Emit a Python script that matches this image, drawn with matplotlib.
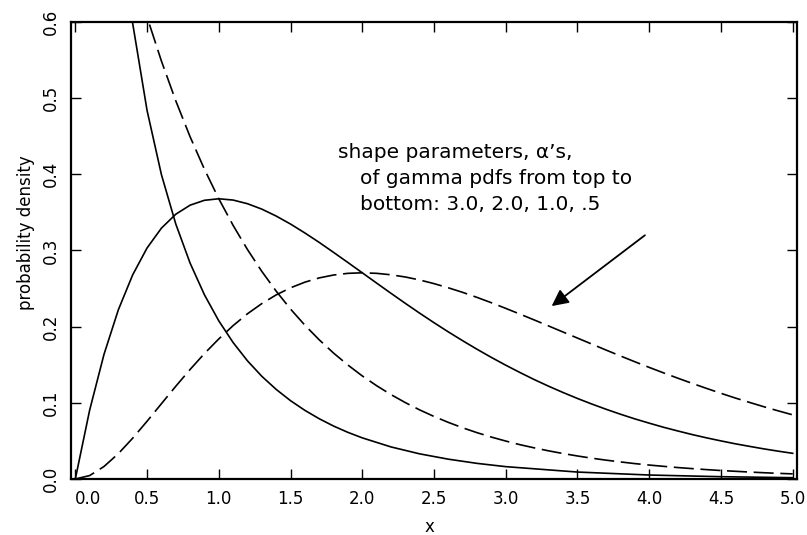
import matplotlib
matplotlib.use("Agg")
import matplotlib.pyplot as plt
import numpy as np

# x grid for the curves
x = [0.0, 0.1, 0.2, 0.3, 0.4, 0.5, 0.6, 0.7, 0.8, 0.9,
     1.0, 1.1, 1.2, 1.3, 1.4, 1.5, 1.6, 1.7, 1.8, 1.9,
     2.0, 2.1, 2.2, 2.3, 2.4, 2.5, 2.6, 2.7, 2.8, 2.9,
     3.0, 3.1, 3.2, 3.3, 3.4, 3.5, 3.6, 3.7, 3.8, 3.9,
     4.0, 4.1, 4.2, 4.3, 4.4, 4.5, 4.6, 4.7, 4.8, 4.9, 5.0]

# alpha = 3.0 (dashed, peak near x=2)
pdf_a3 = [0.0, 0.0045, 0.0164, 0.0333, 0.0536, 0.0758, 0.0988, 0.1217, 0.1438, 0.1647,
          0.1839, 0.2014, 0.2169, 0.2303, 0.2417, 0.2510, 0.2584, 0.2640, 0.2678, 0.2700,
          0.2707, 0.2700, 0.2681, 0.2652, 0.2613, 0.2565, 0.2510, 0.2450, 0.2384, 0.2314,
          0.2240, 0.2164, 0.2087, 0.2008, 0.1929, 0.1850, 0.1771, 0.1692, 0.1615, 0.1539,
          0.1465, 0.1393, 0.1323, 0.1255, 0.1189, 0.1125, 0.1063, 0.1005, 0.0948, 0.0894, 0.0842]

# alpha = 2.0 (solid, peak near x=1)
pdf_a2 = [0.0, 0.0905, 0.1637, 0.2222, 0.2681, 0.3033, 0.3293, 0.3476, 0.3595, 0.3659,
          0.3679, 0.3662, 0.3614, 0.3543, 0.3452, 0.3347, 0.3230, 0.3106, 0.2975, 0.2842,
          0.2707, 0.2572, 0.2438, 0.2306, 0.2177, 0.2052, 0.1931, 0.1815, 0.1703, 0.1596,
          0.1494, 0.1397, 0.1304, 0.1217, 0.1135, 0.1057, 0.0984, 0.0915, 0.0850, 0.0789,
          0.0733, 0.0679, 0.0630, 0.0583, 0.0540, 0.0500, 0.0462, 0.0428, 0.0395, 0.0365, 0.0337]

# alpha = 1.0 (dashed, exponential)
pdf_a1 = [1.0, 0.9048, 0.8187, 0.7408, 0.6703, 0.6065, 0.5488, 0.4966, 0.4493, 0.4066,
          0.3679, 0.3329, 0.3012, 0.2725, 0.2466, 0.2231, 0.2019, 0.1827, 0.1653, 0.1496,
          0.1353, 0.1225, 0.1108, 0.1003, 0.0907, 0.0821, 0.0743, 0.0672, 0.0608, 0.0550,
          0.0498, 0.0450, 0.0408, 0.0369, 0.0334, 0.0302, 0.0273, 0.0247, 0.0224, 0.0202,
          0.0183, 0.0166, 0.0150, 0.0136, 0.0123, 0.0111, 0.0101, 0.0091, 0.0082, 0.0074, 0.0067]

# alpha = 0.5 (solid, steepest)
x_a05 = [0.3, 0.35, 0.4, 0.5, 0.6, 0.7, 0.8, 0.9, 1.0, 1.1, 1.2, 1.3, 1.4, 1.5, 1.6, 1.7,
         1.8, 1.9, 2.0, 2.2, 2.4, 2.6, 2.8, 3.0, 3.5, 4.0, 4.5, 5.0]
pdf_a05 = [0.7631, 0.6721, 0.5979, 0.4839, 0.3997, 0.3349, 0.2834, 0.2418, 0.2076, 0.1791,
           0.1551, 0.1348, 0.1176, 0.1028, 0.0901, 0.0791, 0.0695, 0.0612, 0.0540, 0.0421,
           0.0330, 0.0260, 0.0205, 0.0162, 0.0091, 0.0052, 0.0030, 0.0017]

xticks = [0.0, 0.5, 1.0, 1.5, 2.0, 2.5, 3.0, 3.5, 4.0, 4.5, 5.0]
xticklabels = ["0.0", "0.5", "1.0", "1.5", "2.0", "2.5", "3.0", "3.5", "4.0", "4.5", "5.0"]
yticks = [0.0, 0.1, 0.2, 0.3, 0.4, 0.5, 0.6]
yticklabels = ["0.0", "0.1", "0.2", "0.3", "0.4", "0.5", "0.6"]

note_lines = ["shape parameters, \u03b1\u2019s,",
              "of gamma pdfs from top to",
              "bottom: 3.0, 2.0, 1.0, .5"]

plt.rcParams['font.family'] = ['DejaVu Sans']

fig = plt.figure(figsize=(8.07, 5.35), dpi=100)
ax = fig.add_axes([0.088, 0.1047, 0.8996, 0.8542])

lw = 1.2
dash = (12, 4)
ax.plot(x, pdf_a3, color='black', lw=lw, dashes=dash)
ax.plot(x, pdf_a2, color='black', lw=lw)
ax.plot(x, pdf_a1, color='black', lw=lw, dashes=dash)
ax.plot(x_a05, pdf_a05, color='black', lw=lw)

ax.set_xlim(-0.03, 5.03)
ax.set_ylim(0.0, 0.6)

ax.set_xticks(xticks)
ax.set_xticklabels(xticklabels)
ax.set_yticks(yticks)
ax.set_yticklabels(yticklabels, rotation=90, va='center')
ax.tick_params(direction='in', length=7, width=1.0, top=True, right=True,
               labelsize=12, pad=8)
labs = ax.get_xticklabels()
labs[0].set_horizontalalignment('left')
for s in ax.spines.values():
    s.set_linewidth(1.6)

ax.set_xlabel('x', fontsize=12)
ax.xaxis.set_label_coords(0.494, -0.085)
ax.set_ylabel('probability density', fontsize=12)
ax.yaxis.set_label_coords(-0.05, 0.54)

ax.text(1.83, 0.429, note_lines[0], fontsize=14.5, ha='left', va='center')
ax.text(1.985, 0.395, note_lines[1], fontsize=14.5, ha='left', va='center')
ax.text(1.985, 0.361, note_lines[2], fontsize=14.5, ha='left', va='center')

ax.annotate('', xy=(3.32, 0.227), xytext=(3.97, 0.320),
            arrowprops=dict(arrowstyle='-|>,head_length=1.0,head_width=0.5',
                            color='black', lw=1.3, shrinkA=0, shrinkB=0))

fig.savefig('out.png', dpi=100)
